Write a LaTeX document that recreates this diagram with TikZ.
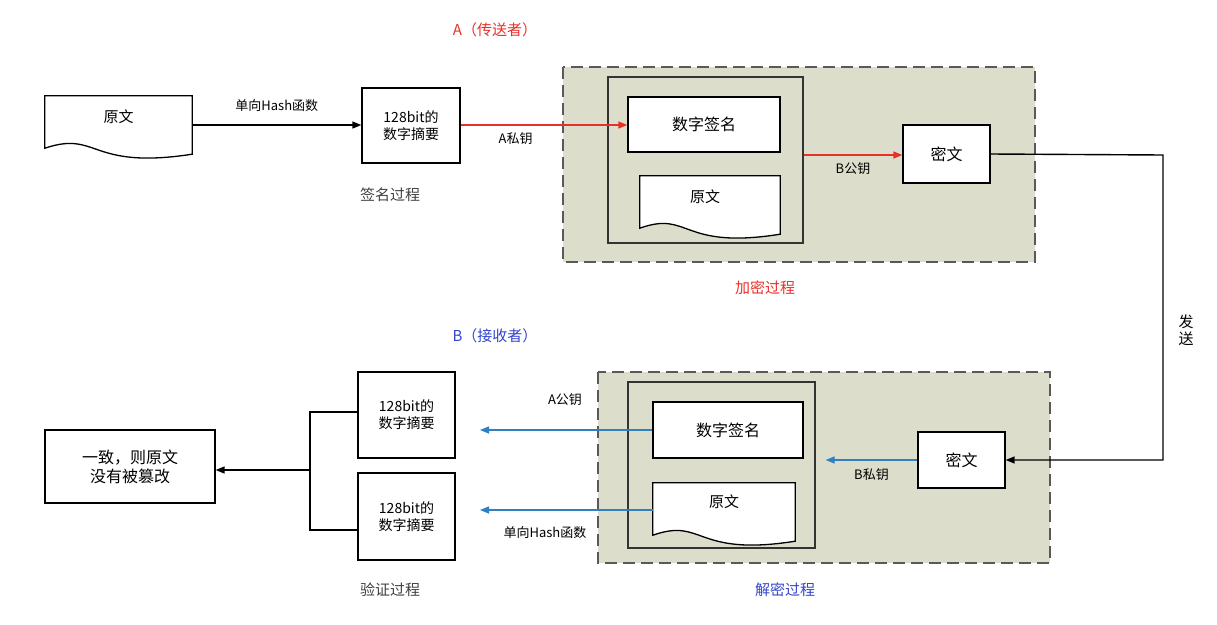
\documentclass[tikz,border=0pt]{standalone}
\usepackage{fontspec}
\setmainfont{Noto Sans CJK SC}
\usetikzlibrary{arrows.meta}
\definecolor{panel}{HTML}{DCDDCB}
\definecolor{myred}{HTML}{E8302A}
\definecolor{myblue}{HTML}{2F7FC1}
\definecolor{tblue}{HTML}{3344CC}
\begin{document}
\begin{tikzpicture}[x=1pt,y=-1pt,
  box/.style={draw,line width=1.3pt,minimum width=#1,align=center,font=\fontsize{14}{17}\selectfont,inner sep=0pt},
  doc/.style={minimum width=#1,minimum height=52,font=\fontsize{15}{17}\selectfont,inner sep=0pt},
  lbl/.style={font=\fontsize{13}{15}\selectfont},
  ttl/.style={font=\fontsize{15}{17}\selectfont},
  arr/.style={-{Triangle[length=9pt,width=7pt]},line width=1.4pt},
  panelbox/.style={draw=gray!70!black,fill=panel,line width=1.8pt,dash pattern=on 12pt off 6pt},
  frame/.style={draw=black!80,line width=1.3pt}]
\useasboundingbox (0,0) rectangle (1217,624);
\newcommand{\docshape}[1]{\draw[line width=1.3pt,fill=white] (#1.north west) -- (#1.north east) -- ([yshift=-6]#1.south east) .. controls ([xshift=-30,yshift=-22]#1.south) and ([xshift=-20,yshift=18]#1.south) .. ([xshift=0]#1.south west) -- cycle;}
% panels
\draw[panelbox] (563,67) rectangle (1035,262);
\draw[panelbox] (598,372) rectangle (1050,563);
\node[frame,minimum width=195,minimum height=166,inner sep=0] (fa) at (705.5,160) {};
\node[frame,minimum width=187,minimum height=166,inner sep=0] (fb) at (721.5,465) {};
% top
\node[doc=147] (d1) at (118.5,122) {};
\docshape{d1}
\node[ttl] at (118.5,117) {原文};
\node[box=98,minimum height=75] (h1) at (411,125.5) {128bit的\\数字摘要};
\node[box=152,minimum height=55,fill=white,font=\fontsize{16}{18}\selectfont] (s1) at (704,124.5) {数字签名};
\node[doc=140] (d2) at (710,202) {};
\docshape{d2}
\node[ttl] at (705,197) {原文};
\node[box=87,minimum height=58,fill=white,font=\fontsize{16}{18}\selectfont] (c1) at (946.5,154) {密文};
\draw[arr] (d1.east |- 0,125) -- (h1.west |- 0,125) node[lbl,midway,above=9pt] {单向Hash函数};
\draw[arr,myred] (h1.east |- 0,125) -- (s1.west |- 0,125) node[lbl,pos=0.33,below=4pt,black] {A私钥};
\draw[arr,myred] (fa.east |- 0,155) -- (c1.west |- 0,155) node[lbl,midway,below=4pt,black] {B公钥};
\node[ttl,myred] at (495,30) {A（传送者）};
\node[ttl,black!75] at (390,195) {签名过程};
\node[ttl,myred] at (765,288) {加密过程};
% send
\node[box=87,minimum height=56,fill=white,font=\fontsize{16}{18}\selectfont] (c2) at (961.5,460) {密文};
\coordinate (k1) at (1163,155);
\coordinate (k2) at (1163,460);
\draw[arr] (c1.east) -- (k1) -- (k2) -- (c2.east);
\node[ttl,align=center] at (1186,330) {发\\送};
% bottom
\node[ttl,tblue] at (495,336) {B（接收者）};
\node[box=150,minimum height=56,fill=white,font=\fontsize{16}{18}\selectfont] (s2) at (728,430) {数字签名};
\node[doc=142] (d3) at (724,509) {};
\docshape{d3}
\node[ttl] at (724,502) {原文};
\draw[arr,myblue] (c2.west) -- ([xshift=10]fb.east |- 0,460) node[lbl,midway,below=5pt,black] {B私钥};
\node[box=97,minimum height=86] (h2) at (406.5,415) {128bit的\\数字摘要};
\node[box=97,minimum height=87] (h3) at (406.5,516.5) {128bit的\\数字摘要};
\draw[arr,myblue] (s2.west) -- (480,430);
\draw[arr,myblue] (d3.west |- 0,510) -- (480,510);
\node[lbl] at (565,400) {A公钥};
\node[lbl] at (545,533) {单向Hash函数};
\node[box=170,minimum height=73,font=\fontsize{16}{19}\selectfont] (r) at (130,466.5) {一致，则原文\\没有被篡改};
\coordinate (b1) at (310,412);
\coordinate (b2) at (310,530);
\coordinate (bm) at (310,470);
\draw[line width=1.3pt] (h2.west |- b1) -- (b1) -- (b2) -- (h3.west |- b2);
\draw[arr] (bm) -- (r.east |- bm);
\node[ttl,black!75] at (390,590) {验证过程};
\node[ttl,tblue] at (785,590) {解密过程};
\end{tikzpicture}
\end{document}
